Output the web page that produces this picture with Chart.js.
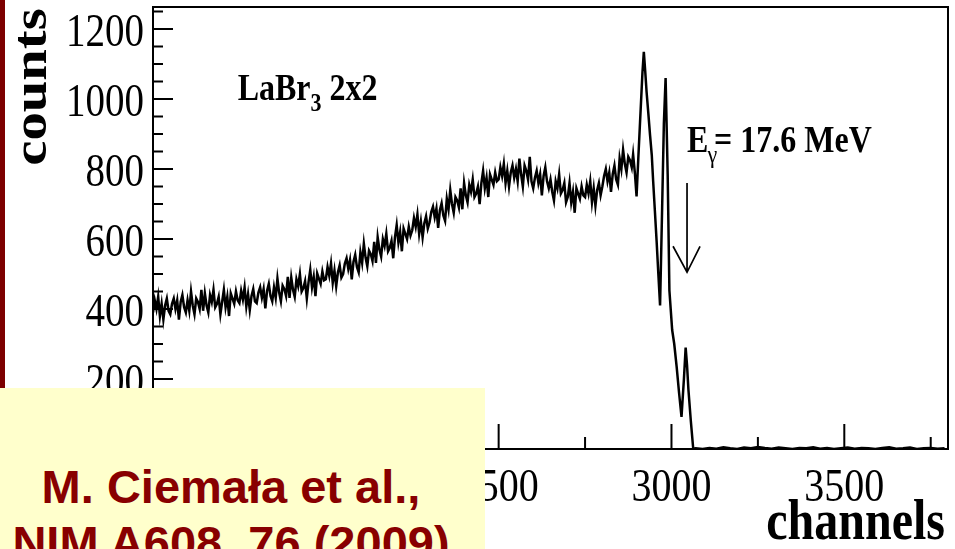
<!DOCTYPE html>
<html>
<head>
<meta charset="utf-8">
<script src="https://cdn.jsdelivr.net/npm/chart.js@4.4.1/dist/chart.umd.min.js"></script>
<style>
  html, body { margin: 0; padding: 0; background: #fff; overflow: hidden; }
  #wrap { position: relative; width: 955px; height: 549px; }
  #chart { position: absolute; left: 0; top: 0; }
  #strip { position: absolute; left: 0; top: 0; width: 5px; height: 549px; background: #7d0000; }
  #ref {
    position: absolute; left: 0; top: 388px; width: 485px; height: 161px;
    background: #ffffcc; overflow: hidden;
  }
  #ref div {
    position: absolute; left: 0; top: 71px; width: 462px; text-align: center;
    font: bold 47px "Liberation Sans", Arial, sans-serif; line-height: 56px;
    color: #880000; white-space: nowrap;
  }
</style>
</head>
<body>
<div id="wrap">
  <canvas id="chart" width="955" height="549"></canvas>
  <div id="strip"></div>
  <div id="ref"><div>M. Ciemała et al.,<br>NIM A608, 76 (2009)</div></div>
</div>
<script>
// --- DATA ---
// continuum, 5-channel bins starting at channel 1500
const BIN_START = 1500;
const BIN_WIDTH = 5;
const continuumCounts = [
  390, 425, 400, 435, 380, 415, 370, 410, 430, 395,
  385, 415, 430, 400, 425, 370, 420, 440, 405, 390,
  425, 395, 450, 410, 385, 430, 420, 400, 455, 395,
  445, 410, 390, 440, 420, 455, 405, 415, 435, 385,
  420, 455, 405, 435, 380, 445, 430, 415, 450, 425,
  417, 452, 427, 462, 407, 442, 397, 437, 457, 422,
  417, 447, 462, 432, 457, 402, 452, 472, 437, 422,
  462, 432, 487, 447, 422, 467, 457, 437, 492, 432,
  490, 455, 435, 485, 465, 500, 450, 460, 480, 430,
  477, 512, 462, 492, 437, 502, 487, 472, 507, 482,
  485, 520, 495, 530, 475, 510, 465, 505, 525, 490,
  500, 530, 545, 515, 540, 485, 535, 555, 520, 505,
  562, 532, 587, 547, 522, 567, 557, 537, 592, 532,
  605, 570, 550, 600, 580, 615, 565, 575, 595, 545,
  605, 640, 590, 620, 565, 630, 615, 600, 635, 610,
  625, 660, 635, 670, 615, 650, 605, 645, 665, 630,
  647, 677, 692, 662, 687, 632, 682, 702, 667, 652,
  715, 685, 740, 700, 675, 720, 710, 690, 745, 685,
  760, 725, 705, 755, 735, 770, 720, 730, 750, 700,
  760, 795, 745, 775, 720, 785, 770, 755, 790, 765,
  770, 805, 780, 815, 760, 795, 750, 790, 810, 775,
  800, 765, 830, 785, 750, 810, 795, 770, 835, 765,
  745, 775, 795, 760, 785, 725, 780, 805, 765, 745,
  770, 735, 710, 765, 745, 785, 730, 740, 760, 705,
  720, 760, 705, 735, 675, 745, 730, 715, 750, 725,
  720, 755, 730, 765, 705, 745, 695, 740, 760, 725,
  750, 780, 800, 765, 790, 735, 785, 810, 770, 755,
  830, 800, 855, 815, 790, 835, 825, 805
];

// full-energy / escape peak region
const peakChannels = [2889, 2894, 2899, 2904, 2909, 2916, 2920, 2924, 2928, 2933,
  2938, 2943, 2947, 2952, 2957, 2962, 2967, 2973, 2978, 2983,
  2989, 2994, 3002, 3008, 3015, 3022, 3029, 3036, 3041, 3045,
  3049, 3056, 3063];
const peakCounts = [842, 790, 722, 830, 933, 1075, 1135, 1080, 1020, 960,
  897, 840, 765, 680, 594, 500, 410, 690, 930, 1060,
  785, 453, 340, 300, 235, 160, 92, 200, 290, 240,
  170, 80, 0];

// empty tail above the peaks
const tailChannels = [3070, 3090, 3110, 3130, 3150, 3170, 3190, 3210, 3230, 3250,
  3270, 3290, 3310, 3330, 3350, 3370, 3390, 3410, 3430, 3450,
  3470, 3490, 3510, 3530, 3550, 3570, 3590, 3610, 3630, 3650,
  3670, 3690, 3710, 3730, 3750, 3770, 3790];
const tailCounts = [2, 0, 3, 1, 5, 2, 0, 4, 2, 6,
  3, 1, 4, 2, 0, 3, 2, 5, 1, 3,
  0, 2, 4, 1, 3, 2, 0, 3, 5, 1,
  2, 4, 0, 2, 3, 1, 2];

// axes
const X_MIN = 1500, X_MAX = 3800;
const Y_MIN = 0, Y_MAX = 1263;
const xMajorTicks = [1500, 2000, 2500, 3000, 3500];
const xMinorTicks = [1750, 2250, 2750, 3250, 3750];
const xTickLabels = ['1500', '2000', '2500', '3000', '3500'];
const yMajorTicks = [0, 200, 400, 600, 800, 1000, 1200];
const yMinorTicks = [50, 100, 150, 250, 300, 350, 450, 500, 550, 650, 700, 750,
  850, 900, 950, 1050, 1100, 1150, 1250];
const yTickLabels = ['0', '200', '400', '600', '800', '1000', '1200'];

// arrow marking E = 17.6 MeV
const arrowChannel = 3045;
const arrowFrom = 760;
const arrowTo = 505;

// --- BUILD POINTS ---
const points = [];
continuumCounts.forEach((c, i) => points.push({ x: BIN_START + i * BIN_WIDTH, y: c }));
peakChannels.forEach((ch, i) => points.push({ x: ch, y: peakCounts[i] }));
tailChannels.forEach((ch, i) => points.push({ x: ch, y: tailCounts[i] }));

const SERIF = '"Liberation Serif", "Times New Roman", serif';
const STRETCH = 1.18; // the original figure is stretched vertically

// draws text with a vertical stretch
const stretchedText = (ctx, text, x, y, font, align) => {
  ctx.save();
  ctx.font = font;
  ctx.textAlign = align;
  ctx.textBaseline = 'alphabetic';
  ctx.translate(x, y);
  ctx.scale(1, STRETCH);
  ctx.fillText(text, 0, 0);
  ctx.restore();
};

// --- ROOT-STYLE FRAME, TICKS AND TEXT ---
const rootFrame = {
  id: 'rootFrame',
  afterDatasetsDraw(chart) {
    const { ctx, chartArea: a, scales: { x, y } } = chart;
    ctx.save();
    ctx.strokeStyle = '#000';
    ctx.fillStyle = '#000';

    // frame
    ctx.lineWidth = 2;
    ctx.strokeRect(a.left, a.top, a.right - a.left, a.bottom - a.top);

    // ticks (inward, bottom and left only)
    ctx.beginPath();
    xMajorTicks.forEach(v => { const px = x.getPixelForValue(v); ctx.moveTo(px, a.bottom); ctx.lineTo(px, a.bottom - 25); });
    xMinorTicks.forEach(v => { const px = x.getPixelForValue(v); ctx.moveTo(px, a.bottom); ctx.lineTo(px, a.bottom - 12); });
    yMajorTicks.forEach(v => { const py = y.getPixelForValue(v); ctx.moveTo(a.left, py); ctx.lineTo(a.left + 20, py); });
    yMinorTicks.forEach(v => { const py = y.getPixelForValue(v); ctx.moveTo(a.left, py); ctx.lineTo(a.left + 10, py); });
    ctx.stroke();

    // tick labels
    xMajorTicks.forEach((v, i) => {
      stretchedText(ctx, xTickLabels[i], x.getPixelForValue(v), a.bottom + 52, '40px ' + SERIF, 'center');
    });
    yMajorTicks.forEach((v, i) => {
      stretchedText(ctx, yTickLabels[i], a.left - 9, y.getPixelForValue(v) + 17, '39px ' + SERIF, 'right');
    });

    // axis titles
    stretchedText(ctx, 'channels', a.right - 3, a.bottom + 90, 'bold 48px ' + SERIF, 'right');
    ctx.save();
    ctx.font = 'bold 48px ' + SERIF;
    ctx.textAlign = 'center';
    ctx.textBaseline = 'alphabetic';
    ctx.translate(46, 87);
    ctx.rotate(-Math.PI / 2);
    ctx.scale(STRETCH, 1);
    ctx.fillText('counts', 0, 0);
    ctx.restore();

    // detector label: LaBr3 2x2
    const lx = x.getPixelForValue(1745), ly = a.top + 93;
    ctx.save();
    ctx.font = 'bold 32px ' + SERIF;
    ctx.textBaseline = 'alphabetic';
    ctx.translate(lx, ly);
    ctx.scale(1, STRETCH);
    ctx.fillText('LaBr', 0, 0);
    let w = ctx.measureText('LaBr').width;
    ctx.font = 'bold 22px ' + SERIF;
    ctx.fillText('3', w, 9);
    w += ctx.measureText('3').width;
    ctx.font = 'bold 32px ' + SERIF;
    ctx.fillText(' 2x2', w, 0);
    ctx.restore();

    // energy label: E_gamma = 17.6 MeV
    const ex = x.getPixelForValue(arrowChannel), ey = a.top + 145;
    ctx.save();
    ctx.translate(ex, ey);
    ctx.scale(1, STRETCH);
    ctx.font = 'bold 32px ' + SERIF;
    ctx.fillText('E', 0, 0);
    let ew = ctx.measureText('E').width;
    ctx.font = '22px ' + SERIF;
    ctx.fillText('γ', ew - 1, 9);
    ew += ctx.measureText('γ').width - 4;
    ctx.font = 'bold 32px ' + SERIF;
    ctx.fillText('= 17.6 MeV', ew, 0);
    ctx.restore();

    // arrow
    const ax = x.getPixelForValue(arrowChannel);
    const ay0 = y.getPixelForValue(arrowFrom);
    const ay1 = y.getPixelForValue(arrowTo);
    ctx.lineWidth = 1.7;
    ctx.beginPath();
    ctx.moveTo(ax, ay0);
    ctx.lineTo(ax, ay1);
    ctx.moveTo(ax - 14, ay1 - 26);
    ctx.lineTo(ax, ay1);
    ctx.lineTo(ax + 13, ay1 - 26);
    ctx.stroke();

    ctx.restore();
  }
};

// --- CHART ---
new Chart(document.getElementById('chart').getContext('2d'), {
  type: 'line',
  data: {
    datasets: [{
      data: points,
      borderColor: '#000',
      borderWidth: 2.5,
      pointRadius: 0,
      tension: 0,
      fill: false
    }]
  },
  options: {
    responsive: false,
    animation: false,
    events: [],
    layout: { padding: { left: 153, top: 7, right: 7, bottom: 100 } },
    plugins: { legend: { display: false }, tooltip: { enabled: false } },
    scales: {
      x: { type: 'linear', min: X_MIN, max: X_MAX, display: false },
      y: { type: 'linear', min: Y_MIN, max: Y_MAX, display: false }
    }
  },
  plugins: [rootFrame]
});
</script>
</body>
</html>
